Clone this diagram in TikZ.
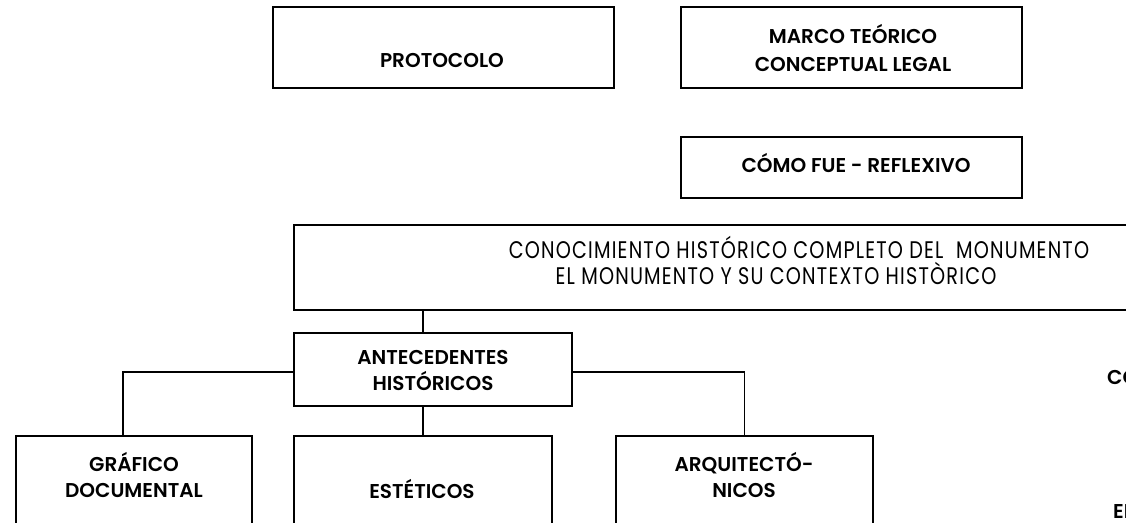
\documentclass[tikz,border=0pt]{standalone}
\usepackage{fontspec}
\setmainfont{Poppins}[BoldFont={Poppins SemiBold}]
\newfontfamily\condfont[FakeStretch=0.8,LetterSpace=5]{Poppins}
\begin{document}
\begin{tikzpicture}[x=1pt,y=-1pt,
  box/.style={draw, line width=1.6pt, inner sep=0pt},
  conn/.style={line width=1.5pt},
  lbl/.style={font=\fontsize{20}{26}\selectfont\bfseries, align=center, inner sep=0pt},
  biglbl/.style={font=\fontsize{24}{26}\condfont, inner sep=0pt, anchor=center}]
\useasboundingbox (0,0) rectangle (1126,522);
\clip (0,0) rectangle (1126,522);
% boxes
\node[box, minimum width=341pt, minimum height=81pt] (proto) at (443.5,47.5) {};
\node[box, minimum width=341pt, minimum height=81pt] (marco) at (851.5,47.5) {};
\node[box, minimum width=341pt, minimum height=61pt] (como) at (851.5,167.5) {};
\node[box, minimum width=846pt, minimum height=85pt] (big) at (717,267.5) {};
\node[box, minimum width=278pt, minimum height=73pt] (ante) at (433,369.5) {};
\node[box, minimum width=236pt, minimum height=94pt] (graf) at (134,483) {};
\node[box, minimum width=258pt, minimum height=94pt] (este) at (423,483) {};
\node[box, minimum width=257pt, minimum height=94pt] (arq) at (744.5,483) {};
% texts
\node[lbl] (tproto) at (442,60) {PROTOCOLO};
\node[lbl, font=\fontsize{20}{28}\selectfont\bfseries] (tmarco) at (853,47.5) {MARCO TEÓRICO\\CONCEPTUAL LEGAL};
\node[lbl] (tcomo) at (856,163) {CÓMO FUE - REFLEXIVO};
\node[biglbl] (tbig1) at (799,247) {CONOCIMIENTO HISTÓRICO COMPLETO DEL\ \ MONUMENTO};
\node[biglbl] (tbig2) at (776,273) {EL MONUMENTO Y SU CONTEXTO HISTÒRICO};
\node[lbl] (tante) at (433,370) {ANTECEDENTES\\HISTÓRICOS};
\node[lbl] (tgraf) at (134,474.5) {GRÁFICO\\DOCUMENTAL};
\node[lbl] (teste) at (422,489) {ESTÉTICOS};
\node[lbl] (tarq) at (744,474.5) {ARQUITECTÓ-\\NICOS};
\node[lbl, anchor=west] (tco) at (1107,377) {CO};
\node[lbl, anchor=west] (tei) at (1113,512) {EI};
% connectors
\draw[conn] ([xshift=-10pt]ante.north) -- ([xshift=-10pt]ante.north |- big.south);
\draw[conn] ([yshift=-2.5pt]ante.west) -| ([xshift=-11pt]graf.north);
\draw[conn] ([yshift=-2.5pt]ante.east) -| (arq.north);
\draw[conn] (este.north |- ante.south) -- (este.north);
\end{tikzpicture}
\end{document}
